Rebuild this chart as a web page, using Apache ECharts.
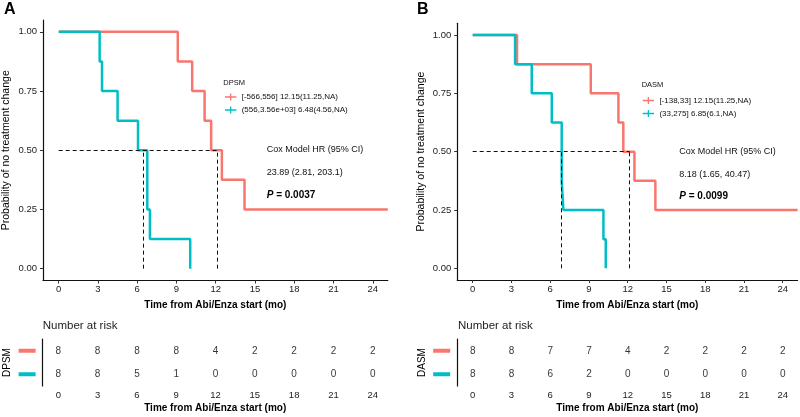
<!DOCTYPE html>
<html>
<head>
<meta charset="utf-8">
<script src="https://cdn.jsdelivr.net/npm/echarts@6/dist/echarts.min.js"></script>
<style>
  html, body { margin: 0; padding: 0; background: #fff; }
  #main { width: 800px; height: 417px; }
</style>
</head>
<body>
<div id="main"></div>
<script>
// ticks
const xTicks = [0, 3, 6, 9, 12, 15, 18, 21, 24];
const yTicks = [0, 0.25, 0.5, 0.75, 1];
const riskTimes = [0, 3, 6, 9, 12, 15, 18, 21, 24];

// panel A (DPSM) - KM steps
const aRedName = '[-566,556] 12.15(11.25,NA)';
const aCyanName = '(556,3.56e+03] 6.48(4.56,NA)';
const aRedTime = [0, 9.1, 10.2, 11.15, 11.65, 12.47, 14.2, 25.15];
const aRedSurv = [1, 0.875, 0.75, 0.625, 0.5, 0.375, 0.25, 0.25];
const aCyanTime = [0, 3.13, 3.31, 4.5, 6.06, 6.77, 6.97, 10.05];
const aCyanSurv = [1, 0.875, 0.75, 0.625, 0.5, 0.25, 0.125, 0];
const aMedians = [6.48, 12.15];
const aRiskRed = [8, 8, 8, 8, 4, 2, 2, 2, 2];
const aRiskCyan = [8, 8, 5, 1, 0, 0, 0, 0, 0];
const aCox = ['Cox Model HR (95% CI)', '23.89 (2.81, 203.1)', '0.0037'];

// panel B (DASM)
const bRedName = '[-138,33] 12.15(11.25,NA)';
const bCyanName = '(33,275] 6.85(6.1,NA)';
const bRedTime = [0, 3.43, 9.14, 11.28, 11.66, 12.52, 14.14, 25.15];
const bRedSurv = [1, 0.875, 0.75, 0.625, 0.5, 0.375, 0.25, 0.25];
const bCyanTime = [0, 3.28, 4.57, 6.12, 6.89, 7.02, 10.12, 10.3];
const bCyanSurv = [1, 0.875, 0.75, 0.625, 0.375, 0.25, 0.125, 0];
const bMedians = [6.85, 12.15];
const bRiskRed = [8, 8, 7, 7, 4, 2, 2, 2, 2];
const bRiskCyan = [8, 8, 6, 2, 0, 0, 0, 0, 0];
const bCox = ['Cox Model HR (95% CI)', '8.18 (1.65, 40.47)', '0.0099'];

const RED = '#F8766D';
const CYAN = '#00BFC4';
const FONT = "'Liberation Sans', Arial, sans-serif";
const XMIN = -1.2, XMAX = 25.15;

const chart = echarts.init(document.getElementById('main'), null, { renderer: 'canvas' });

function pairs(xs, ys) {
  return xs.map((x, i) => [x, ys[i]]);
}

function xAxisOf(grid, nameGap) {
  return {
    type: 'value', gridIndex: grid, min: XMIN, max: XMAX,
    name: 'Time from Abi/Enza start (mo)', nameLocation: 'middle', nameGap: nameGap,
    nameTextStyle: { fontFamily: FONT, fontSize: 10, fontWeight: 'bold', color: '#000' },
    axisLine: { onZero: false, lineStyle: { color: '#111', width: 1.2 } },
    axisTick: { length: 3, customValues: xTicks, lineStyle: { color: '#333' } },
    axisLabel: { customValues: xTicks, margin: 4, fontFamily: FONT, fontSize: 9.5, color: '#222' },
    splitLine: { show: false }
  };
}

function topYAxis(grid) {
  return {
    type: 'value', gridIndex: grid, min: -0.05, max: 1.05,
    name: 'Probability of no treatment change', nameLocation: 'middle', nameGap: 31,
    nameTextStyle: { fontFamily: FONT, fontSize: 10.5, color: '#000' },
    axisLine: { show: true, onZero: false, lineStyle: { color: '#111', width: 1.2 } },
    axisTick: { show: true, length: 3, customValues: yTicks, lineStyle: { color: '#333' } },
    axisLabel: { customValues: yTicks, margin: 6, fontFamily: FONT, fontSize: 9.5, color: '#222',
      formatter: v => v.toFixed(2) },
    splitLine: { show: false }
  };
}

function tableYAxis(grid, name) {
  return {
    type: 'category', gridIndex: grid, data: ['cyan', 'red'],
    name: name, nameLocation: 'middle', nameGap: 30,
    nameTextStyle: { fontFamily: FONT, fontSize: 10, color: '#000' },
    axisLine: { show: true, onZero: false, lineStyle: { color: '#111', width: 1.2 } },
    axisTick: { show: false },
    axisLabel: {
      margin: 7,
      formatter: v => v === 'red' ? '{r| }' : '{c| }',
      rich: {
        r: { backgroundColor: RED, width: 17, height: 4 },
        c: { backgroundColor: CYAN, width: 17, height: 4 }
      }
    }
  };
}

function kmSeries(name, xs, ys, color, axisIdx, medians) {
  const s = {
    name: name, type: 'line', step: 'end', showSymbol: false, symbol: 'none',
    xAxisIndex: axisIdx, yAxisIndex: axisIdx,
    data: pairs(xs, ys),
    lineStyle: { color: color, width: 2.5 }, itemStyle: { color: color },
    animation: false
  };
  if (medians) {
    s.markLine = {
      silent: true, symbol: 'none', z: 10, label: { show: false },
      lineStyle: { color: '#111', width: 1, type: [4, 3] },
      data: [
        [{ coord: [0, 0.5] }, { coord: [medians[1], 0.5] }],
        [{ coord: [medians[0], 0] }, { coord: [medians[0], 0.5] }],
        [{ coord: [medians[1], 0] }, { coord: [medians[1], 0.5] }]
      ]
    };
  }
  return s;
}

function riskSeries(counts, cat, axisIdx) {
  return {
    type: 'scatter', xAxisIndex: axisIdx, yAxisIndex: axisIdx, symbolSize: 0,
    data: riskTimes.map((t, i) => ({ value: [t, cat, counts[i]] })),
    label: { show: true, position: 'inside', formatter: p => String(p.value[2]),
      fontFamily: FONT, fontSize: 10, color: '#000' },
    animation: false, silent: true
  };
}

const legendIcon = 'path://M0,3H12V4.4H0Z M5.3,0H6.7V7.4H5.3Z';

function legendOf(left, top, names) {
  return {
    orient: 'vertical', left: left, top: top, data: names, padding: 0,
    icon: legendIcon, itemWidth: 12, itemHeight: 7, itemGap: 5,
    selectedMode: false,
    textStyle: { fontFamily: FONT, fontSize: 8, color: '#111' }
  };
}

function coxTexts(x, ys, lines) {
  return [
    { type: 'text', left: x, top: ys[0] - 6, style: { text: lines[0], font: '9px ' + FONT, fill: '#111' } },
    { type: 'text', left: x, top: ys[1] - 6, style: { text: lines[1], font: '9px ' + FONT, fill: '#111' } },
    { type: 'text', left: x, top: ys[2] - 7, style: {
      text: '{i|P} = ' + lines[2],
      font: 'bold 10px ' + FONT, fill: '#000',
      rich: { i: { fontStyle: 'italic', fontWeight: 'bold', fontSize: 10, fontFamily: FONT } }
    } }
  ];
}

const option = {
  backgroundColor: '#fff',
  animation: false,
  grid: [
    { left: 42.6, width: 345.2, top: 20, height: 260.5 },
    { left: 42.6, width: 345.2, top: 339, height: 47 },
    { left: 457.2, width: 340.4, top: 23.3, height: 256.7 },
    { left: 457.2, width: 340.4, top: 339, height: 47 }
  ],
  xAxis: [xAxisOf(0, 20), xAxisOf(1, 17), xAxisOf(2, 20), xAxisOf(3, 17)],
  yAxis: [topYAxis(0), tableYAxis(1, 'DPSM'), topYAxis(2), tableYAxis(3, 'DASM')],
  legend: [
    legendOf(225, 93, [aRedName, aCyanName]),
    legendOf(642.7, 96.5, [bRedName, bCyanName])
  ],
  series: [
    kmSeries(aRedName, aRedTime, aRedSurv, RED, 0, aMedians),
    kmSeries(aCyanName, aCyanTime, aCyanSurv, CYAN, 0, null),
    riskSeries(aRiskRed, 'red', 1),
    riskSeries(aRiskCyan, 'cyan', 1),
    kmSeries(bRedName, bRedTime, bRedSurv, RED, 2, bMedians),
    kmSeries(bCyanName, bCyanTime, bCyanSurv, CYAN, 2, null),
    riskSeries(bRiskRed, 'red', 3),
    riskSeries(bRiskCyan, 'cyan', 3)
  ],
  graphic: [
    { type: 'text', left: 4, top: 2, style: { text: 'A', font: 'bold 16px ' + FONT, fill: '#000' } },
    { type: 'text', left: 417, top: 2, style: { text: 'B', font: 'bold 16px ' + FONT, fill: '#000' } },
    { type: 'text', left: 223.3, top: 78.5, style: { text: 'DPSM', font: '7.5px ' + FONT, fill: '#111' } },
    { type: 'text', left: 641.7, top: 81, style: { text: 'DASM', font: '7.5px ' + FONT, fill: '#111' } },
    { type: 'text', left: 42.7, top: 320, style: { text: 'Number at risk', font: '11.5px ' + FONT, fill: '#222' } },
    { type: 'text', left: 458, top: 320, style: { text: 'Number at risk', font: '11.5px ' + FONT, fill: '#222' } }
  ].concat(coxTexts(266.7, [150.7, 174, 197.3], aCox), coxTexts(679.3, [152.7, 176, 198.3], bCox))
};

chart.setOption(option);
</script>
</body>
</html>
